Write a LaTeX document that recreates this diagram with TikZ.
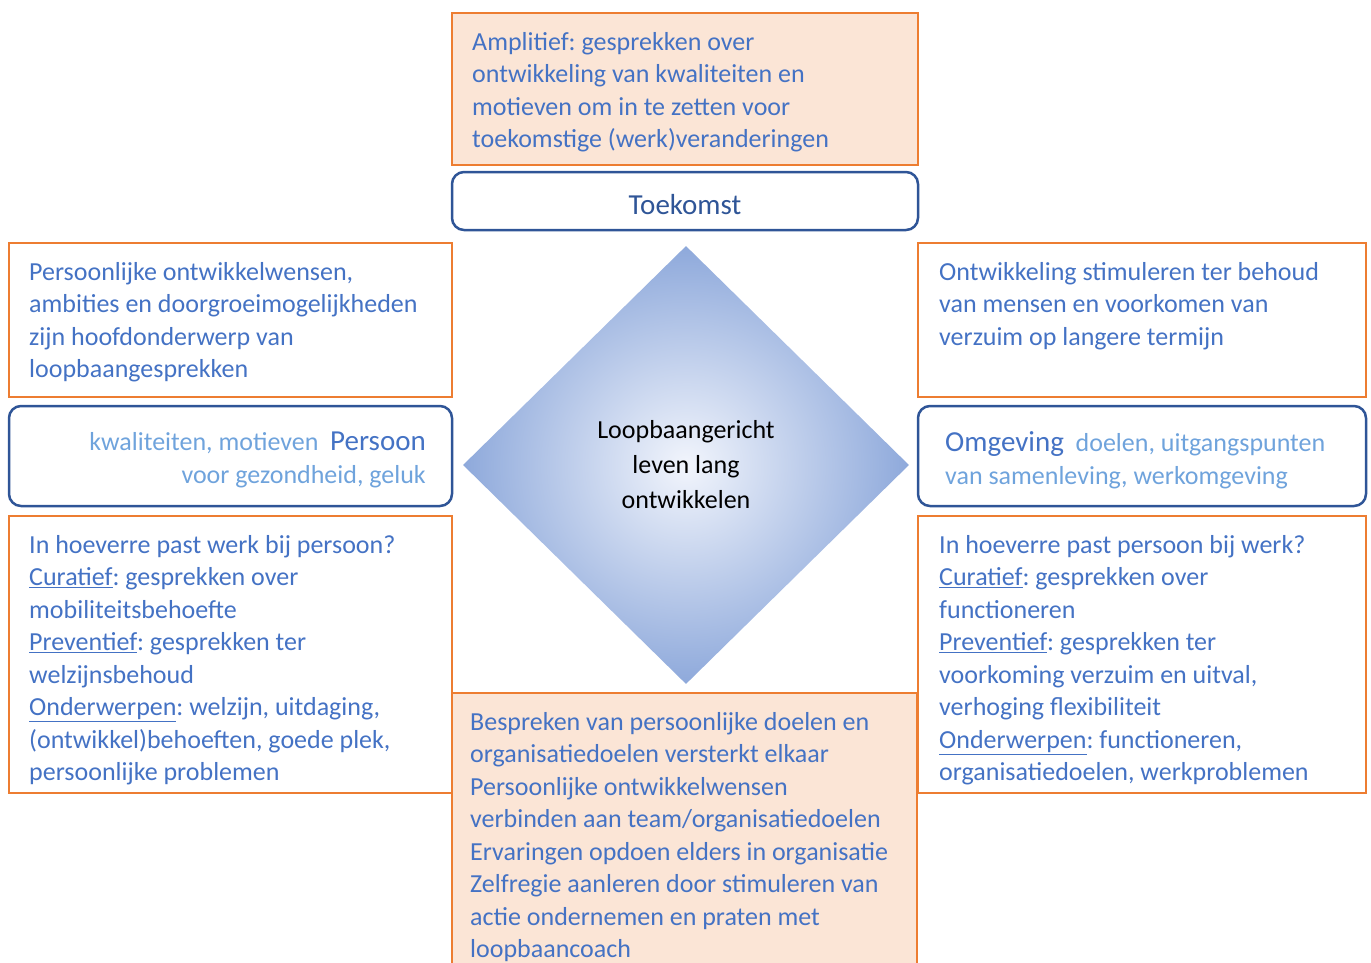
\documentclass[tikz,border=0pt]{standalone}
\usepackage{fontspec}
\setmainfont{Carlito}
\usetikzlibrary{positioning,shapes.geometric}
\frenchspacing

\definecolor{oranje}{HTML}{ED7D31}
\definecolor{oranjevul}{HTML}{FBE5D6}
\definecolor{tekstblauw}{HTML}{4472C4}
\definecolor{donkerblauw}{HTML}{2F5597}
\definecolor{lichtblauw}{HTML}{6FA3DC}
\definecolor{ruitrand}{HTML}{8EA9DB}
\definecolor{ruitmidden}{HTML}{F2F5FC}

\newcommand{\kopletter}{\fontsize{29}{33}\selectfont}

\tikzset{
  vak/.style={draw=oranje,line width=2.5pt,inner sep=0pt,outer sep=0pt,anchor=north west},
  kern/.style={draw=donkerblauw,line width=2.5pt,rounded corners=12pt,inner sep=0pt,outer sep=0pt,anchor=north west},
  tekst/.style={text=tekstblauw,align=left,inner sep=0pt,font=\fontsize{26}{32.5}\selectfont}
}

\begin{document}
\begin{tikzpicture}[x=1pt,y=-1pt]
\useasboundingbox (0,0) rectangle (1371,962);

% centre
\node[diamond,minimum width=446pt,minimum height=438pt,inner sep=0pt,
  inner color=ruitmidden,outer color=ruitrand,align=center,
  font=\fontsize{26}{35}\selectfont] (ruit) at (686,465)
  {Loopbaangericht\\leven lang\\ontwikkelen};

% boxes
\node[vak,fill=oranjevul,minimum width=466pt,minimum height=152pt] (amplitief) at (452,13) {};
\node[kern,minimum width=466pt,minimum height=58pt,text height=28pt,text=donkerblauw,font=\kopletter] (toekomst) at (452,172) {Toekomst};
\node[vak,minimum width=443pt,minimum height=154pt] (linksboven) at (9,243) {};
\node[vak,minimum width=448pt,minimum height=154pt] (rechtsboven) at (918,243) {};
\node[kern,minimum width=443pt,minimum height=100pt] (persoon) at (9,406) {};
\node[kern,minimum width=448pt,minimum height=100pt] (omgeving) at (918,406) {};
\node[vak,minimum width=443pt,minimum height=277pt] (linksonder) at (9,516) {};
\node[vak,minimum width=448pt,minimum height=277pt] (rechtsonder) at (918,516) {};
\node[vak,fill=oranjevul,minimum width=465pt,minimum height=300pt] (midonder) at (452,693) {};

% texts
\node[tekst,below right=19pt and 20pt of amplitief.north west] (amplitiefTxt)
  {Amplitief: gesprekken over\\ontwikkeling van kwaliteiten en\\motieven om in te zetten voor\\toekomstige (werk)veranderingen};
\node[tekst,below right=19pt and 20pt of linksboven.north west] (linksbovenTxt)
  {Persoonlijke ontwikkelwensen,\\ambities en doorgroeimogelijkheden\\zijn hoofdonderwerp van\\loopbaangesprekken};
\node[tekst,below right=19pt and 21pt of rechtsboven.north west] (rechtsbovenTxt)
  {Ontwikkeling stimuleren ter behoud\\van mensen en voorkomen van\\verzuim op langere termijn};
\node[tekst,text=lichtblauw,align=right,left=26pt of persoon.east,yshift=-4pt] (persoonTxt)
  {kwaliteiten, motieven\ \ {\kopletter\color{tekstblauw}Persoon}\\voor gezondheid, geluk};
\node[tekst,text=lichtblauw,right=27pt of omgeving.west,yshift=-4pt] (omgevingTxt)
  {{\kopletter\color{tekstblauw}Omgeving}\ \ doelen, uitgangspunten\\van samenleving, werkomgeving};
\node[tekst,below right=19pt and 20pt of linksonder.north west] (linksonderTxt)
  {In hoeverre past werk bij persoon?\\\underline{Curatief}: gesprekken over\\mobiliteitsbehoefte\\
   \underline{Preventief}: gesprekken ter\\welzijnsbehoud\\
   \underline{Onderwerpen}: welzijn, uitdaging,\\(ontwikkel)behoeften, goede plek,\\persoonlijke problemen};
\node[tekst,below right=19pt and 21pt of rechtsonder.north west] (rechtsonderTxt)
  {In hoeverre past persoon bij werk?\\\underline{Curatief}: gesprekken over\\functioneren\\
   \underline{Preventief}: gesprekken ter\\voorkoming verzuim en uitval,\\verhoging flexibiliteit\\
   \underline{Onderwerpen}: functioneren,\\organisatiedoelen, werkproblemen};
\node[tekst,below right=19pt and 18pt of midonder.north west] (midonderTxt)
  {Bespreken van persoonlijke doelen en\\organisatiedoelen versterkt elkaar\\Persoonlijke ontwikkelwensen\\
   verbinden aan team/organisatiedoelen\\Ervaringen opdoen elders in organisatie\\
   Zelfregie aanleren door stimuleren van\\actie ondernemen en praten met\\loopbaancoach};
\end{tikzpicture}
\end{document}
